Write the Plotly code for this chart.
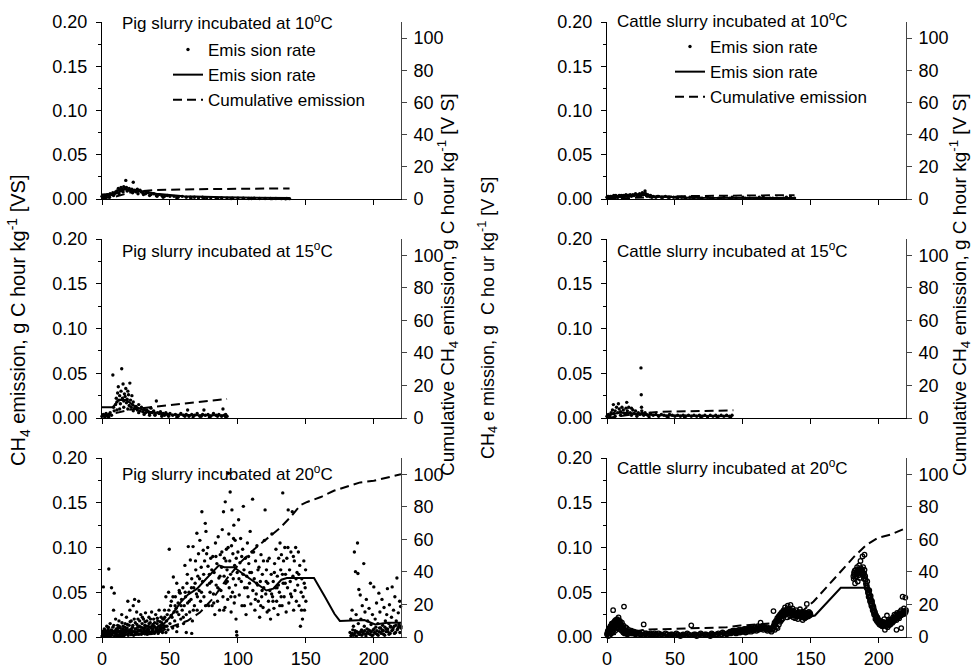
import plotly.graph_objects as go

FONT = "Liberation Sans, Arial, Helvetica, sans-serif"

# ---------------- data (days, emission rate g C h-1 kg-1 VS, cumulative) ----------------
panel_titles = ["Pig slurry incubated at 10<sup>o</sup>C",
                "Pig slurry incubated at 15<sup>o</sup>C",
                "Pig slurry incubated at 20<sup>o</sup>C",
                "Cattle slurry incubated at 10<sup>o</sup>C",
                "Cattle slurry incubated at 15<sup>o</sup>C",
                "Cattle slurry incubated at 20<sup>o</sup>C"]

x_ticks = [0, 50, 100, 150, 200]
y_ticks = [0.00, 0.05, 0.10, 0.15, 0.20]
y2_ticks = [0, 20, 40, 60, 80, 100]

pig10_points = [(0,0.003),(1,0.002),(2,0.004),(3,0.003),(4,0.005),(5,0.004),(6,0.006),(7,0.005),(8,0.007),(9,0.006),
    (10,0.008),(11,0.009),(12,0.012),(13,0.010),(14,0.013),(15,0.011),(16,0.014),(17,0.012),(17.5,0.021),(18,0.013),
    (19,0.010),(20,0.012),(21,0.009),(22,0.011),(23,0.019),(24,0.010),(25,0.008),(26,0.011),(27,0.009),(28,0.010),
    (29,0.008),(30,0.007),(32,0.006),(34,0.007),(36,0.005),(38,0.006),(40,0.004),(42,0.005),(44,0.004),(46,0.003),
    (48,0.004),(50,0.003),(53,0.003),(56,0.002),(59,0.003),(62,0.002),(65,0.002),(68,0.002),(71,0.0015),(74,0.002),
    (77,0.001),(80,0.0015),(84,0.001),(88,0.0012),(92,0.001),(96,0.0008),(100,0.001),(104,0.0008),(108,0.0006),
    (112,0.0008),(116,0.0006),(120,0.0005),(124,0.0006),(128,0.0005),(132,0.0004),(136,0.0005),(138,0.0004),
    (0.5,0.001),(2.5,0.0015),(5.5,0.002),(8.5,0.004),(12.5,0.006),(15.5,0.008),(18.5,0.009),(22.5,0.007),(26.5,0.006),
    (30.5,0.005),(35,0.004),(40.5,0.003),(45,0.002),(55,0.0015),(65.5,0.001),(75,0.001),(85,0.0008),(95,0.0006),
    (110,0.0005),(125,0.0004),(135,0.0003)]
pig10_rate_day = [0, 10, 17, 25, 40, 60, 90, 138]
pig10_rate_val = [0.005, 0.006, 0.011, 0.010, 0.006, 0.003, 0.002, 0.001]
pig10_cum_day = [0, 10, 23, 40, 80, 138]
pig10_cum_val = [0.4, 1.5, 4.5, 5.6, 6.2, 6.6]

pig15_points = [(0,0.002),(1,0.004),(2,0.003),(3,0.005),(4,0.002),(5,0.004),(6,0.006),(7,0.003),(8,0.048),(8.5,0.012),
    (9,0.008),(10,0.015),(10.5,0.022),(11,0.018),(11.5,0.028),(12,0.035),(12.5,0.020),(13,0.025),(13.5,0.016),(14,0.030),
    (14.5,0.055),(15,0.022),(15.5,0.038),(16,0.019),(16.5,0.027),(17,0.024),(17.5,0.033),(18,0.017),(18.5,0.021),(19,0.030),
    (19.5,0.026),(20,0.014),(20.5,0.039),(21,0.020),(21.5,0.012),(22,0.025),(22.5,0.015),(23,0.018),(24,0.011),(25,0.013),
    (26,0.009),(27,0.015),(28,0.008),(29,0.012),(30,0.007),(31,0.010),(32,0.006),(33,0.009),(34,0.007),(35,0.005),
    (36,0.011),(37,0.006),(38,0.008),(39,0.004),(40,0.019),(41,0.006),(42,0.005),(43,0.007),(44,0.004),(45,0.005),
    (46,0.003),(47,0.006),(48,0.004),(50,0.005),(52,0.003),(54,0.004),(56,0.002),(58,0.005),(60,0.003),(62,0.004),
    (63,0.009),(64,0.002),(66,0.004),(68,0.003),(70,0.005),(72,0.002),(74,0.004),(75,0.009),(76,0.003),(78,0.004),
    (80,0.002),(82,0.005),(84,0.003),(86,0.004),(88,0.002),(89,0.010),(90,0.003),(91,0.004),(92,0.002),
    (2,0.001),(5,0.001),(11,0.009),(13,0.010),(16,0.012),(19,0.010),(23,0.008),(27,0.006),(31,0.004),(35,0.003),
    (39,0.003),(44,0.002),(49,0.002),(55,0.001),(61,0.002),(67,0.001),(73,0.002),(79,0.001),(85,0.002),(91,0.001)]
pig15_rate_day = [0, 8, 12, 18, 25, 35, 50, 70, 92]
pig15_rate_val = [0.012, 0.012, 0.020, 0.020, 0.012, 0.007, 0.004, 0.003, 0.003]
pig15_cum_day = [0, 10, 20, 31, 60, 92]
pig15_cum_val = [1.0, 3.0, 5.0, 6.2, 9.0, 11.7]

pig20_points = [(0.5,0.004),(1,0.056),(1.5,0.002),(2,0.008),(2.5,0.001),(3,0.006),(3.5,0.012),(4,0.003),(4.5,0.009),
    (5,0.076),(5.5,0.005),(6,0.015),(6.5,0.002),(7,0.055),(7.5,0.007),(8,0.011),(8.5,0.03),(9,0.049),(9.5,0.004),
    (10,0.02),(10.5,0.009),(11,0.002),(11.5,0.013),(12,0.006),(12.5,0.018),(13,0.003),(13.5,0.01),(14,0.007),
    (14.5,0.025),(15,0.004),(15.5,0.012),(16,0.008),(16.5,0.002),(17,0.015),(17.5,0.006),(18,0.022),(18.5,0.01),
    (19,0.04),(19.5,0.004),(20,0.013),(20.5,0.03),(21,0.007),(21.5,0.018),(22,0.003),(22.5,0.011),(23,0.035),
    (23.5,0.006),(24,0.042),(24.5,0.016),(25,0.009),(25.5,0.028),(26,0.004),(26.5,0.02),(27,0.04),(27.5,0.012),
    (28,0.007),(28.5,0.025),(29,0.003),(29.5,0.015),(30,0.01),(30.5,0.02),(31,0.006),(31.5,0.013),(32,0.027),
    (32.5,0.004),(33,0.018),(33.5,0.009),(34,0.012),(34.5,0.022),(35,0.005),(35.5,0.016),(36,0.01),(36.5,0.028),
    (37,0.007),(37.5,0.014),(38,0.02),(38.5,0.004),(39,0.011),(39.5,0.025),(40,0.008),(40.5,0.015),(41,0.018),
    (41.5,0.006),(42,0.03),(42.5,0.012),(43,0.009),(43.5,0.022),(44,0.016),(44.5,0.005),(45,0.013),
    (0,0.001),(1.2,0.003),(2.3,0.005),(3.3,0.002),(4.4,0.007),(5.2,0.001),(6.3,0.004),(7.2,0.002),(8.3,0.006),
    (9.2,0.001),(10.3,0.005),(11.3,0.008),(12.3,0.002),(13.3,0.006),(14.3,0.001),(15.3,0.009),(16.3,0.005),
    (17.3,0.003),(18.3,0.007),(19.3,0.002),(20.3,0.008),(21.3,0.004),(22.3,0.006),(23.3,0.002),(24.3,0.009),
    (25.3,0.005),(26.3,0.011),(27.3,0.003),(28.3,0.008),(29.3,0.006),(30.3,0.004),(31.3,0.01),(32.3,0.007),
    (33.3,0.003),(34.3,0.008),(35.3,0.011),(36.3,0.005),(37.3,0.009),(38.3,0.012),(39.3,0.006),(40.3,0.01),
    (41.3,0.004),(42.3,0.008),(43.3,0.013),(44.3,0.007),(45.3,0.01),
    (0.7,0.006),(1.7,0.009),(2.7,0.003),(3.7,0.005),(4.7,0.011),(5.7,0.003),(6.7,0.008),(7.7,0.004),(8.7,0.013),
    (9.7,0.007),(10.7,0.003),(11.7,0.01),(12.7,0.012),(13.7,0.004),(14.7,0.016),(15.7,0.002),(16.7,0.011),
    (17.7,0.009),(18.7,0.014),(19.7,0.006),(20.7,0.017),(21.7,0.009),(22.7,0.013),(23.7,0.02),(24.7,0.004),
    (25.7,0.014),(26.7,0.008),(27.7,0.018),(28.7,0.011),(29.7,0.022),(30.7,0.008),(31.7,0.017),(32.7,0.012),
    (33.7,0.006),(34.7,0.015),(35.7,0.02),(36.7,0.012),(37.7,0.006),(38.7,0.016),(39.7,0.009),(40.7,0.021),
    (41.7,0.012),(42.7,0.017),(43.7,0.01),(44.7,0.02),
    (45.5,0.02),(46,0.03),(46.5,0.012),(47,0.045),(47.5,0.018),(48,0.025),(48.5,0.008),(49,0.05),(49.5,0.098),
    (50,0.015),(50.5,0.035),(51,0.04),(51.5,0.022),(52,0.01),(52.5,0.067),(53,0.028),(53.5,0.018),(54,0.045),
    (54.5,0.032),(55,0.06),(55.5,0.012),(56,0.038),(56.5,0.025),(57,0.05),(57.5,0.049),(58,0.02),(58.5,0.042),
    (59,0.03),(59.5,0.055),(60,0.015),(60.5,0.035),(61,0.08),(61.5,0.045),(62,0.025),(62.5,0.06),(63,0.038),
    (63.5,0.101),(64,0.05),(64.5,0.028),(65,0.086),(65.5,0.042),(66,0.065),(66.5,0.018),(67,0.101),(67.5,0.055),
    (68,0.035),(68.5,0.06),(69,0.075),(69.5,0.048),(69.8,0.116),(70,0.03),(70.5,0.068),(71,0.093),(71.5,0.052),
    (72,0.108),(72.5,0.04),(73,0.078),(73.5,0.14),(74,0.062),(74.5,0.097),(75,0.045),(75.5,0.085),(76,0.127),
    (76.5,0.118),(77,0.093),(77.5,0.058),(78,0.079),(78.5,0.035),(79,0.07),(79.5,0.05),(80,0.088),
    (55,0.006),(62,0.005),(66,0.004),(47,0.005),
    (46.2,0.022),(47.8,0.012),(49.2,0.03),(50.8,0.024),(52.2,0.045),(53.8,0.035),(55.2,0.028),(56.8,0.052),
    (58.2,0.035),(59.8,0.022),(61.2,0.05),(62.8,0.07),(64.2,0.04),(65.8,0.055),(67.2,0.03),(68.8,0.085),
    (70.2,0.045),(71.8,0.065),(73.2,0.05),(74.8,0.07),(76.2,0.035),(77.8,0.1),(79.2,0.06),
    (80.5,0.062),(81,0.035),(81.5,0.09),(82,0.048),(82.5,0.072),(83,0.025),(83.5,0.105),(84,0.058),(84.5,0.082),
    (85,0.04),(85.5,0.112),(86,0.066),(86.5,0.03),(87,0.092),(87.5,0.052),(88,0.078),(88.5,0.12),(89,0.045),
    (89.4,0.14),(89.8,0.068),(90,0.088),(90.5,0.033),(90.7,0.151),(91,0.06),(91.5,0.098),(92,0.075),(92.5,0.042),
    (93,0.183),(93.3,0.115),(93.6,0.055),(94,0.085),(94.3,0.162),(94.6,0.07),(95,0.028),(95.3,0.102),(95.6,0.142),
    (96,0.05),(96.3,0.093),(96.6,0.065),(97,0.125),(97.3,0.038),(97.6,0.08),(98,0.108),(98.3,0.058),(98.6,0.02),
    (99,0.006),(99.2,0.002),(99.5,0.072),(100,0.095),(100.5,0.131),(101,0.047),(101.5,0.083),(102,0.11),
    (102.5,0.062),(103,0.035),(103.5,0.098),(104,0.146),(104.5,0.075),(105,0.055),(105.5,0.088),(106,0.025),
    (106.5,0.068),(107,0.105),(107.5,0.045),(108,0.082),(108.5,0.06),(109,0.118),(109.5,0.037),(110,0.072),
    (110.8,0.154),(111,0.052),(111.5,0.095),(112,0.065),(112.5,0.03),(113,0.085),(113.5,0.048),(114,0.102),
    (114.5,0.058),(115,0.04),(115.5,0.078),(116,0.022),(116.5,0.062),(117,0.092),(117.5,0.045),(118,0.07),
    (118.5,0.033),(119,0.055),(119.5,0.108),(120,0.142),(120.5,0.048),(121,0.075),(121.5,0.028),(122,0.06),
    (122.5,0.04),(123,0.088),(123.5,0.052),(124,0.02),(124.5,0.07),(125,0.115),(125.5,0.045),(126,0.062),
    (126.5,0.032),(127,0.082),(127.5,0.055),(128,0.098),(128.5,0.04),(129,0.068),(129.5,0.025),(130,0.088),
    (130.5,0.05),(131,0.105),(131.5,0.075),(132,0.092),(132.5,0.035),(133,0.161),(133.3,0.06),(133.6,0.085),
    (134,0.045),(134.5,0.1),(135,0.07),(135.5,0.028),(136,0.088),(136.5,0.055),(137,0.142),(137.5,0.038),
    (138,0.075),(138.5,0.062),(139,0.095),(139.5,0.045),(140,0.14),(140.5,0.068),(141,0.03),(141.5,0.085),
    (142,0.052),(142.5,0.1),(143,0.04),(143.5,0.072),(144,0.058),(144.5,0.095),(145,0.035),(145.5,0.08),
    (146,0.012),(146.5,0.05),(147,0.065),(147.5,0.02),(148,0.045),(148.5,0.085),(149,0.03),(149.5,0.055),(150,0.04),
    (80.8,0.075),(82.2,0.038),(83.8,0.09),(85.2,0.055),(86.8,0.068),(88.2,0.095),(89.6,0.03),(91.2,0.085),
    (92.8,0.1),(94.8,0.045),(96.8,0.11),(98.8,0.088),(100.8,0.065),(102.8,0.09),(104.8,0.035),(106.8,0.055),
    (108.8,0.072),(110.4,0.095),(112.8,0.042),(114.8,0.075),(116.8,0.035),(118.8,0.085),(120.8,0.062),
    (122.8,0.03),(124.8,0.048),(126.8,0.072),(128.8,0.055),(130.8,0.035),(132.8,0.07),(134.8,0.06),(136.8,0.1),
    (138.8,0.048),(140.8,0.09),(142.8,0.065),(144.8,0.07),(146.8,0.03),(148.8,0.06),(149.8,0.075),
    (92.2,0.062),(97.8,0.045),(103.8,0.07),(107.8,0.09),(113.8,0.06),(117.8,0.052),(121.8,0.085),(125.8,0.04),
    (129.8,0.058),(131.8,0.045),
    (182.5,0.005),(183,0.02),(183.5,0.002),(184,0.03),(184.5,0.008),(185,0.012),(185.7,0.095),(186,0.004),
    (186.5,0.073),(187,0.025),(187.5,0.006),(188,0.105),(188.3,0.071),(188.6,0.015),(189,0.053),(189.5,0.003),
    (190,0.047),(190.5,0.02),(191,0.008),(191.5,0.035),(192,0.005),(192.6,0.082),(193,0.012),(193.5,0.028),
    (194,0.003),(194.5,0.042),(195,0.009),(195.5,0.018),(196,0.004),(196.5,0.032),(197,0.007),(197.5,0.06),
    (198,0.014),(198.5,0.002),(199,0.025),(199.5,0.008),(200,0.056),(200.5,0.005),(201,0.02),(201.5,0.011),
    (202,0.038),(202.5,0.003),(203,0.015),(203.7,0.049),(204,0.006),(204.5,0.028),(205,0.01),(205.5,0.004),
    (206,0.042),(206.5,0.013),(207,0.007),(207.5,0.033),(208,0.002),(208.5,0.018),(209,0.009),(209.5,0.025),
    (210,0.054),(210.5,0.006),(211,0.015),(211.5,0.036),(212,0.004),(212.5,0.011),(213,0.022),(213.5,0.056),
    (214,0.008),(214.5,0.03),(215,0.012),(215.5,0.045),(216,0.005),(216.5,0.018),(217,0.066),(217.5,0.009),
    (218,0.027),(218.5,0.014),(219,0.04),(219.7,0.034),(220,0.01),
    (183.2,0.001),(184.2,0.004),(185.2,0.002),(186.2,0.007),(187.2,0.001),(188.2,0.005),(189.2,0.003),
    (190.2,0.006),(191.2,0.002),(192.2,0.004),(193.2,0.007),(194.2,0.001),(195.2,0.005),(196.2,0.008),
    (197.2,0.003),(198.2,0.006),(199.2,0.002),(200.2,0.009),(201.2,0.004),(202.2,0.007),(203.2,0.002),
    (204.2,0.01),(205.2,0.005),(206.2,0.008),(207.2,0.003),(208.2,0.011),(209.2,0.006),(210.2,0.009),
    (211.2,0.003),(212.2,0.012),(213.2,0.007),(214.2,0.01),(215.2,0.004),(216.2,0.013),(217.2,0.008),
    (218.2,0.011),(219.2,0.005),(219.9,0.012)]
pig20_rate_day = [0, 40, 50, 58, 63, 70, 76, 86, 90, 97, 107, 114, 121, 126, 132, 136, 156, 164, 171, 175, 193, 201, 210, 220]
pig20_rate_val = [0.007, 0.006, 0.022, 0.039, 0.047, 0.054, 0.064, 0.080, 0.078, 0.078, 0.067, 0.060, 0.052, 0.054,
                  0.064, 0.066, 0.066, 0.045, 0.026, 0.018, 0.019, 0.014, 0.016, 0.016]
pig20_cum_day = [0, 40, 50, 63, 72, 82, 92, 102, 112, 121, 131, 139, 146, 151, 161, 171, 190, 200, 220]
pig20_cum_val = [0, 2, 6, 10, 15, 24, 36, 46, 54, 60, 67, 74, 81, 83, 86, 90, 95, 96, 100]

cattle10_points = [(0,0.002),(1,0.003),(2,0.001),(3,0.003),(4,0.002),(5,0.004),(6,0.002),(7,0.003),(8,0.002),(9,0.004),
    (10,0.003),(11,0.002),(12,0.004),(13,0.003),(14,0.005),(15,0.003),(16,0.004),(17,0.005),(18,0.003),(19,0.005),
    (20,0.004),(21,0.006),(22,0.004),(23,0.005),(24,0.006),(25,0.004),(26,0.007),(27,0.005),(28,0.009),(28.5,0.006),
    (29,0.004),(30,0.005),(31,0.003),(32,0.004),(34,0.003),(36,0.002),(38,0.003),(40,0.002),(43,0.003),(46,0.002),
    (49,0.002),(52,0.001),(55,0.002),(58,0.001),(61,0.002),(64,0.001),(67,0.002),(70,0.001),(74,0.002),(78,0.001),
    (82,0.001),(86,0.002),(90,0.001),(95,0.001),(100,0.002),(105,0.001),(110,0.001),(115,0.002),(120,0.001),
    (125,0.001),(130,0.001),(135,0.002),(138,0.001),
    (0.5,0.003),(1.5,0.002),(2.5,0.003),(3.5,0.002),(4.5,0.003),(5.5,0.003),(6.5,0.004),(7.5,0.002),(8.5,0.003),
    (9.5,0.003),(10.5,0.004),(11.5,0.003),(12.5,0.003),(13.5,0.004),(15.5,0.004),(17.5,0.004),(19.5,0.004),
    (21.5,0.005),(23.5,0.004),(25.5,0.005),(27.5,0.006),(29.5,0.003),(33,0.002),(37,0.003),(41,0.002),(45,0.002),
    (51,0.002),(57,0.002),(63,0.002),(69,0.001),(76,0.001),(84,0.001),(92,0.002),(102,0.001),(112,0.002),
    (122,0.001),(132,0.002)]
cattle10_rate_day = [0, 15, 25, 35, 60, 100, 138]
cattle10_rate_val = [0.002, 0.003, 0.005, 0.003, 0.0015, 0.0012, 0.001]
cattle10_cum_day = [0, 10, 20, 30, 50, 80, 110, 138]
cattle10_cum_val = [0, 0.4, 0.8, 1.3, 1.7, 2.0, 2.2, 2.4]

cattle15_points = [(0,0.002),(1,0.004),(2,0.003),(3,0.006),(4,0.009),(4.7,0.015),(5,0.005),(6,0.008),(7,0.012),(8,0.006),
    (8.4,0.016),(9,0.01),(10,0.007),(11,0.012),(12,0.009),(13,0.005),(14,0.011),(14.5,0.0175),(15,0.008),(16,0.012),
    (17,0.006),(18,0.011),(19,0.009),(20,0.005),(21,0.008),(22,0.004),(23,0.006),(24,0.004),(25,0.056),(25.2,0.026),
    (25.4,0.012),(25.6,0.008),(26,0.005),(27,0.003),(28,0.006),(29,0.004),(30,0.003),(32,0.005),(34,0.003),(36,0.004),
    (38,0.002),(40,0.004),(42,0.003),(44,0.002),(46,0.004),(48,0.003),(50,0.002),(52,0.003),(54,0.002),(56,0.003),
    (58,0.002),(60,0.003),(62,0.002),(64,0.003),(66,0.002),(68,0.003),(70,0.002),(72,0.003),(74,0.001),(76,0.003),
    (78,0.002),(80,0.003),(82,0.002),(84,0.003),(86,0.002),(88,0.003),(90,0.002),(92,0.003),
    (2,0.001),(6,0.002),(10,0.003),(14,0.004),(18,0.003),(22,0.002),(31,0.001),(45,0.001),(57,0.001),(69,0.001),
    (81,0.001),(91,0.001)]
cattle15_rate_day = [0, 10, 20, 25, 40, 92]
cattle15_rate_val = [0.003, 0.006, 0.005, 0.004, 0.003, 0.002]
cattle15_cum_day = [0, 10, 26, 40, 60, 93]
cattle15_cum_val = [0, 1.0, 3.0, 3.8, 4.3, 4.7]

cattle20_points = [(0,0.003),(0.5,0.006),(1,0.004),(1.5,0.009),(2,0.005),(2.5,0.012),(3,0.008),(3.5,0.015),(4,0.01),
    (4.5,0.03),(5,0.013),(5.5,0.017),(6,0.011),(6.5,0.019),(7,0.014),(7.5,0.02),(8,0.016),(8.5,0.022),(9,0.013),
    (9.5,0.018),(10,0.015),(10.5,0.011),(11,0.016),(11.5,0.009),(12,0.013),(12.5,0.034),(13,0.008),(13.5,0.011),
    (14,0.007),(14.5,0.01),(15,0.006),(16,0.008),(17,0.005),(18,0.007),(19,0.004),(20,0.006),
    (1,0.001),(2,0.002),(3,0.004),(4,0.006),(5,0.008),(6,0.007),(7,0.01),(8,0.011),(9,0.009),(10,0.008),(11,0.007),
    (12,0.005),(13,0.004),(14,0.004),(15,0.003),
    (0.25,0.004),(0.75,0.007),(1.25,0.006),(1.75,0.01),(2.25,0.008),(2.75,0.011),(3.25,0.012),(3.75,0.014),
    (4.25,0.013),(4.75,0.016),(5.25,0.015),(5.75,0.018),(6.25,0.016),(6.75,0.017),(7.25,0.018),(7.75,0.019),
    (8.25,0.018),(8.75,0.017),(9.25,0.016),(9.75,0.014),(10.25,0.013),(10.75,0.012),(11.25,0.011),(11.75,0.01),
    (12.25,0.009),(12.75,0.008),(13.25,0.007),(13.75,0.006),(14.25,0.006),(14.75,0.005),(15.5,0.005),(16.5,0.004),
    (17.5,0.006),(18.5,0.004),(19.5,0.005),
    (21,0.003),(22,0.005),(23,0.002),(24,0.004),(25,0.003),(26,0.005),(27,0.014),(28,0.003),(29,0.004),(30,0.002),
    (32,0.004),(34,0.003),(36,0.002),(38,0.004),(40,0.003),(42,0.002),(44,0.003),(46,0.002),(48,0.003),(50,0.002),
    (52,0.003),(54,0.001),(56,0.003),(58,0.002),(60,0.003),(62,0.013),(63,0.002),(64,0.003),(66,0.001),(68,0.003),
    (70,0.002),(72,0.003),(74,0.002),(76,0.001),(78,0.003),(80,0.002),(82,0.004),(84,0.003),(86,0.004),(88,0.003),
    (90,0.005),(23,0.004),(27,0.002),(31,0.003),(35,0.004),(39,0.002),(43,0.004),(47,0.003),(51,0.004),(55,0.002),
    (59,0.004),(65,0.003),(69,0.004),(73,0.003),(77,0.004),(81,0.003),(85,0.005),(89,0.004),
    (20.5,0.004),(24.5,0.003),(28.5,0.004),(32.5,0.003),(36.5,0.003),(40.5,0.002),(44.5,0.003),(48.5,0.002),
    (52.5,0.002),(56.5,0.002),(60.5,0.002),(64.5,0.002),(68.5,0.002),(72.5,0.002),(76.5,0.003),(80.5,0.003),
    (84.5,0.003),(88.5,0.004),
    (91,0.004),(92,0.006),(93,0.005),(94,0.007),(95,0.004),(96,0.006),(97,0.008),(98,0.005),(99,0.007),(100,0.006),
    (101,0.009),(102,0.005),(103,0.008),(104,0.007),(105,0.01),(106,0.006),(107,0.009),(108,0.008),(109,0.011),
    (110,0.007),(111,0.012),(112,0.009),(113,0.016),(114,0.01),(115,0.008),(116,0.011),(117,0.009),(118,0.007),
    (119,0.01),(120,0.008),(121,0.006),(122,0.009),
    (90.5,0.006),(91.5,0.005),(92.5,0.007),(93.5,0.006),(94.5,0.005),(95.5,0.007),(96.5,0.005),(97.5,0.006),
    (98.5,0.008),(99.5,0.006),(100.5,0.008),(101.5,0.007),(102.5,0.009),(103.5,0.006),(104.5,0.009),(105.5,0.008),
    (106.5,0.01),(107.5,0.007),(108.5,0.01),(109.5,0.009),(110.5,0.01),(111.5,0.008),(112.5,0.011),(113.5,0.009),
    (114.5,0.012),(115.5,0.01),(116.5,0.009),(117.5,0.011),(118.5,0.009),(119.5,0.008),(120.5,0.01),(121.5,0.008),
    (122.5,0.029),(123,0.012),(123.5,0.008),(124,0.015),(124.5,0.011),(125,0.018),(125.5,0.01),(126,0.02),
    (126.5,0.014),(127,0.022),(127.5,0.017),(128,0.025),(128.5,0.019),(129,0.028),(129.5,0.021),(130,0.03),
    (130.5,0.024),(131,0.033),(131.5,0.026),(132,0.029),(132.5,0.022),(133,0.035),(133.5,0.027),(134,0.031),
    (134.5,0.024),(135,0.036),(135.5,0.028),(136,0.025),(136.5,0.032),(137,0.022),(137.5,0.029),(138,0.026),
    (138.5,0.021),(139,0.03),(139.5,0.024),(140,0.027),(140.5,0.02),(141,0.028),(141.5,0.023),(142,0.031),
    (142.5,0.025),(143,0.022),(143.5,0.028),(144,0.019),(144.5,0.026),(145,0.024),(145.5,0.021),(146,0.027),
    (146.5,0.022),(147,0.037),(147.5,0.025),(148,0.023),(148.5,0.028),(149,0.024),(149.5,0.026),
    (122.25,0.01),(122.75,0.013),(123.25,0.016),(123.75,0.014),(124.25,0.018),(124.75,0.017),(125.25,0.021),
    (125.75,0.019),(126.25,0.023),(126.75,0.021),(127.25,0.025),(127.75,0.023),(128.25,0.027),(128.75,0.025),
    (129.25,0.026),(129.75,0.028),(130.25,0.027),(130.75,0.029),(131.25,0.028),(131.75,0.03),(132.25,0.026),
    (132.75,0.031),(133.25,0.029),(133.75,0.028),(134.25,0.027),(134.75,0.029),(135.25,0.026),(135.75,0.03),
    (136.25,0.028),(136.75,0.027),(137.25,0.025),(137.75,0.027),(138.25,0.024),(138.75,0.026),(139.25,0.025),
    (139.75,0.023),(140.25,0.025),(140.75,0.024),(141.25,0.026),(141.75,0.025),(142.25,0.027),(142.75,0.024),
    (143.25,0.025),(143.75,0.023),(144.25,0.024),(144.75,0.022),(145.25,0.026),(145.75,0.024),(146.25,0.025),
    (146.75,0.023),(147.25,0.027),(147.75,0.024),(148.25,0.026),(148.75,0.025),(149.25,0.027),(149.75,0.025),
    (181.5,0.065),(182,0.07),(182.5,0.06),(183,0.075),(183.5,0.068),(184,0.078),(184.5,0.062),(185,0.072),
    (185.5,0.08),(186,0.066),(186.5,0.085),(187,0.074),(187.5,0.07),(188,0.09),(188.5,0.078),(189,0.065),
    (189.5,0.075),(190,0.068),(190.5,0.06),(191,0.055),(191.5,0.062),(192,0.05),(192.5,0.045),(193,0.052),
    (193.5,0.04),(194,0.046),(194.5,0.035),(195,0.04),(195.5,0.03),(196,0.034),(196.5,0.025),(197,0.028),
    (197.5,0.02),(198,0.024),(198.5,0.018),(199,0.022),(199.5,0.016),(200,0.019),(200.5,0.014),(201,0.018),
    (201.5,0.013),(202,0.016),(202.5,0.012),(203,0.017),(203.5,0.014),(204,0.02),(204.5,0.013),(205,0.016),
    (205.5,0.012),(206,0.015),(206.5,0.011),(207,0.017),(207.5,0.013),(208,0.019),(208.5,0.014),(209,0.018),
    (209.5,0.02),(210,0.016),(210.5,0.022),(211,0.018),(211.5,0.025),(212,0.02),(212.5,0.024),(213,0.019),
    (213.5,0.027),(214,0.022),(214.5,0.026),(215,0.021),(215.5,0.028),(216,0.024),(216.5,0.03),(217,0.025),
    (217.5,0.045),(218,0.028),(218.5,0.032),(219,0.026),(219.5,0.044),(220,0.03),
    (189.5,0.092),(204.5,0.008),(206,0.024),(213,0.008),(216.5,0.01),
    (181.25,0.068),(181.75,0.072),(182.25,0.074),(182.75,0.066),(183.25,0.07),(183.75,0.073),(184.25,0.071),
    (184.75,0.075),(185.25,0.069),(185.75,0.074),(186.25,0.072),(186.75,0.077),(187.25,0.071),(187.75,0.075),
    (188.25,0.072),(188.75,0.07),(189.25,0.071),(189.75,0.066),(190.25,0.064),(190.75,0.058),(191.25,0.057),
    (191.75,0.053),(192.25,0.049),(192.75,0.047),(193.25,0.044),(193.75,0.042),(194.25,0.038),(194.75,0.037),
    (195.25,0.033),(195.75,0.032),(196.25,0.028),(196.75,0.027),(197.25,0.024),(197.75,0.022),(198.25,0.021),
    (198.75,0.019),(199.25,0.018),(199.75,0.017),(200.25,0.016),(200.75,0.015),(201.25,0.015),(201.75,0.014),
    (202.25,0.015),(202.75,0.013),(203.25,0.014),(203.75,0.015),(204.25,0.016),(204.75,0.014),(205.25,0.015),
    (205.75,0.014),(206.25,0.016),(206.75,0.015),(207.25,0.015),(207.75,0.016),(208.25,0.017),(208.75,0.016),
    (209.25,0.017),(209.75,0.018),(210.25,0.019),(210.75,0.018),(211.25,0.02),(211.75,0.021),(212.25,0.02),
    (212.75,0.022),(213.25,0.023),(213.75,0.022),(214.25,0.024),(214.75,0.023),(215.25,0.025),(215.75,0.024),
    (216.25,0.026),(216.75,0.025),(217.25,0.027),(217.75,0.026),(218.25,0.028),(218.75,0.027),(219.25,0.029),
    (219.75,0.028)]
cattle20_rate_day = [0, 8, 20, 50, 90, 110, 120, 128, 135, 150, 153, 172, 193, 200, 210, 220]
cattle20_rate_val = [0.004, 0.012, 0.004, 0.002, 0.004, 0.008, 0.010, 0.022, 0.025, 0.023, 0.024, 0.055, 0.055,
                     0.020, 0.016, 0.025]
cattle20_cum_day = [0, 29, 88, 98, 122, 132, 142, 152, 162, 172, 182, 191, 199, 209, 220]
cattle20_cum_val = [1, 4.5, 6, 7, 8.4, 10.5, 14.6, 21.8, 31, 40, 49.5, 56.7, 60.8, 63, 67]

panels = [
    (pig10_points, pig10_rate_day, pig10_rate_val, pig10_cum_day, pig10_cum_val),
    (pig15_points, pig15_rate_day, pig15_rate_val, pig15_cum_day, pig15_cum_val),
    (pig20_points, pig20_rate_day, pig20_rate_val, pig20_cum_day, pig20_cum_val),
    (cattle10_points, cattle10_rate_day, cattle10_rate_val, cattle10_cum_day, cattle10_cum_val),
    (cattle15_points, cattle15_rate_day, cattle15_rate_val, cattle15_cum_day, cattle15_cum_val),
    (cattle20_points, cattle20_rate_day, cattle20_rate_val, cattle20_cum_day, cattle20_cum_val),
]

# ---------------- layout geometry ----------------
W, H = 972, 668
def px_x(p): return p / W
def px_y(p): return (H - p) / H

x_domains = [[px_x(102), px_x(401)], [px_x(607), px_x(906)]]
y_domains = [[px_y(199), px_y(22)], [px_y(418), px_y(239)], [px_y(637), px_y(458)]]

fig = go.Figure()
layout = {}
tickfont = dict(family=FONT, size=18, color="black")

for i, (pts, rd, rv, cd, cv) in enumerate(panels):
    n = i + 1
    col = i // 3
    row = i % 3
    xa, ya, ya2 = f"x{n}", f"y{n}", f"y{n+6}"
    is_legend_panel = (row == 0)
    legname = "legend" if col == 0 else "legend2"
    open_circles = (i == 5)
    px_days = [p[0] for p in pts]
    px_vals = [p[1] for p in pts]
    fig.add_trace(go.Scatter(
        x=px_days, y=px_vals, mode="markers", xaxis=xa, yaxis=ya,
        name="Emis sion rate", showlegend=is_legend_panel, legend=legname,
        marker=dict(symbol="circle-open" if open_circles else "circle",
                    size=4.5 if open_circles else 3.4, color="black",
                    line=dict(color="black", width=1.3 if open_circles else 0)),
        cliponaxis=False))
    fig.add_trace(go.Scatter(
        x=rd, y=rv, mode="lines", xaxis=xa, yaxis=ya,
        name="Emis sion rate", showlegend=is_legend_panel, legend=legname,
        line=dict(color="black", width=2)))
    fig.add_trace(go.Scatter(
        x=cd, y=cv, mode="lines", xaxis=xa, yaxis=ya2,
        name="Cumulative emission", showlegend=is_legend_panel, legend=legname,
        line=dict(color="black", width=2, dash="9px,5px")))

    layout[f"xaxis{n}"] = dict(
        domain=x_domains[col], anchor=ya, range=[0, 220], tickvals=x_ticks,
        showticklabels=(row == 2), ticks="outside", ticklen=5, tickcolor="black",
        automargin=False,
        showline=True, linecolor="black", linewidth=1, showgrid=False, zeroline=False,
        tickfont=tickfont, fixedrange=True)
    layout[f"yaxis{n}"] = dict(
        domain=y_domains[row], anchor=xa, range=[0, 0.2], tickvals=y_ticks, tickformat=".2f",
        ticks="outside", ticklen=5, tickcolor="black", ticklabelstandoff=5, automargin=False,
        minor=dict(dtick=0.025, tick0=0, ticks="outside", ticklen=3, tickcolor="black"),
        showline=True, linecolor="black", linewidth=1, showgrid=False, zeroline=False,
        tickfont=tickfont, fixedrange=True)
    layout[f"yaxis{n+6}"] = dict(
        overlaying=ya, anchor=xa, side="right", range=[0, 110], tickvals=y2_ticks,
        ticks="outside", ticklen=5, tickcolor="#444", ticklabelstandoff=3, automargin=False,
        showline=True, linecolor="#444", linewidth=1, showgrid=False, zeroline=False,
        tickfont=tickfont, fixedrange=True)

annotations = []
title_pos = [(120, 22), (120, 250), (120, 473), (615, 20), (615, 250), (615, 467)]
for t, (ax_, ay_) in zip(panel_titles, title_pos):
    annotations.append(dict(text=t, x=px_x(ax_), y=px_y(ay_), xref="paper", yref="paper",
                            xanchor="left", yanchor="middle", showarrow=False,
                            font=dict(family=FONT, size=17, color="black")))

axis_titles = [
    ("CH<sub>4</sub> emission, g C hour kg<sup>-1</sup> [VS]", 18, 321, 20),
    ("Cumulative CH<sub>4</sub> emission, g C hour kg<sup>-1</sup> [V S]", 447, 285, 19),
    ("CH<sub>4</sub> e mission, g  C ho ur kg<sup>-1</sup> [V S]", 487, 318, 18),
    ("Cumulative CH<sub>4</sub> emission, g C hour kg<sup>-1</sup> [V S]", 959, 285, 19),
]
for t, ax_, ay_, fs in axis_titles:
    annotations.append(dict(text=t, x=px_x(ax_), y=px_y(ay_), xref="paper", yref="paper",
                            xanchor="center", yanchor="middle", textangle=-90, showarrow=False,
                            font=dict(family=FONT, size=fs, color="black")))

legend_style = dict(font=dict(family=FONT, size=17, color="black"), bgcolor="rgba(0,0,0,0)",
                    borderwidth=0, tracegroupgap=0, itemclick=False, itemdoubleclick=False,
                    xanchor="left", yanchor="top", traceorder="normal")

fig.update_layout(
    template="none",
    width=W, height=H, autosize=False,
    margin=dict(l=0, r=0, t=0, b=0, autoexpand=False),
    paper_bgcolor="white", plot_bgcolor="white",
    showlegend=True,
    annotations=annotations,
    legend=dict(x=px_x(168), y=px_y(32), **legend_style),
    legend2=dict(x=px_x(670), y=px_y(29), **legend_style),
    **layout)

fig.write_html("out.html")
